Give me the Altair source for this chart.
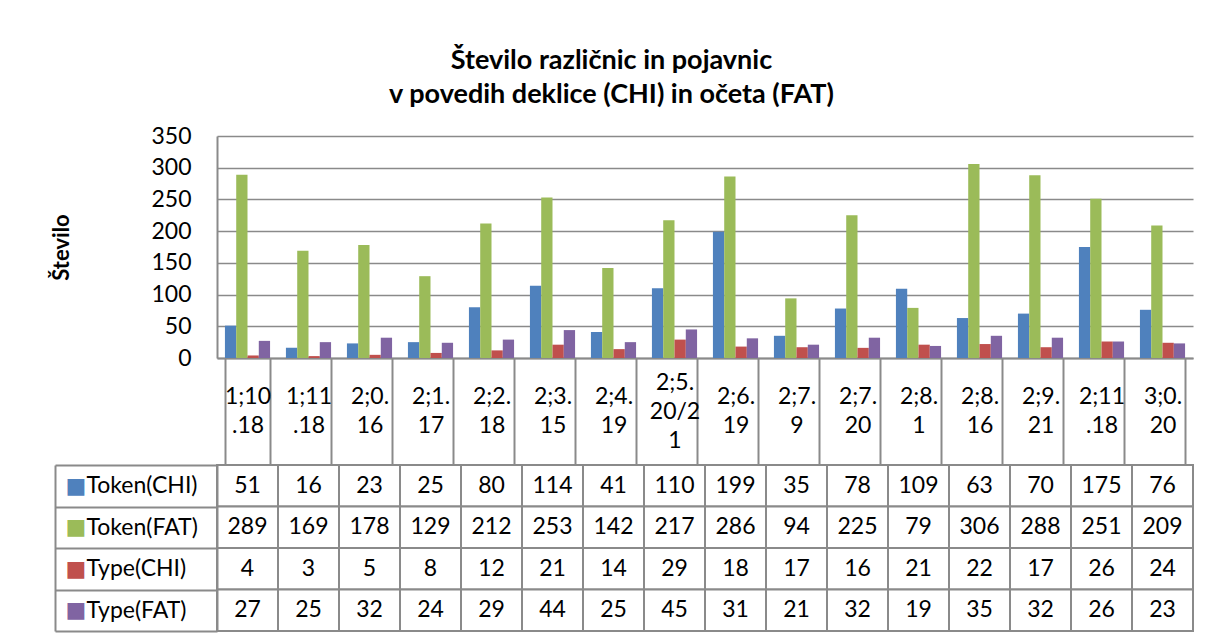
import altair as alt
import pandas as pd

categories = ["1;10.18", "1;11.18", "2;0.16", "2;1.17", "2;2.18", "2;3.15", "2;4.19",
              "2;5.20/21", "2;6.19", "2;7.9", "2;7.20", "2;8.1", "2;8.16", "2;9.21",
              "2;11.18", "3;0.20"]
series_names = ["Token(CHI)", "Token(FAT)", "Type(CHI)", "Type(FAT)"]
token_chi = [51, 16, 23, 25, 80, 114, 41, 110, 199, 35, 78, 109, 63, 70, 175, 76]
token_fat = [289, 169, 178, 129, 212, 253, 142, 217, 286, 94, 225, 79, 306, 288, 251, 209]
type_chi = [4, 3, 5, 8, 12, 21, 14, 29, 18, 17, 16, 21, 22, 17, 26, 24]
type_fat = [27, 25, 32, 24, 29, 44, 25, 45, 31, 21, 32, 19, 35, 32, 26, 23]
colors = ["#4F81BD", "#9BBB59", "#C0504D", "#8064A2"]
y_ticks = [0, 50, 100, 150, 200, 250, 300, 350]
title_lines = ["Število različnic in pojavnic", "v povedih deklice (CHI) in očeta (FAT)"]
y_title = "Število"

rows = []
for s, vals in zip(series_names, [token_chi, token_fat, type_chi, type_fat]):
    for c, v in zip(categories, vals):
        rows.append({"cat": c, "series": s, "value": v})
df = pd.DataFrame(rows)

FONT = "Lato"
FS = 23
GRID = "#8a8a8a"
W = 976
CAT_ROW = 107

label_expr = ("length(datum.label) > 8 ? [substring(datum.label,0,4), substring(datum.label,4,8), "
              "substring(datum.label,8)] : [substring(datum.label,0,4), substring(datum.label,4)]")
three_line = "isString(datum.value) && length(datum.value) > 8"

bars = alt.Chart(df).mark_bar().encode(
    x=alt.X("cat:N", sort=categories,
            scale=alt.Scale(domain=categories, paddingInner=0.26, paddingOuter=0.13),
            axis=alt.Axis(title=None, labelAngle=0, tickBand="extent", tickSize=CAT_ROW,
                          tickColor=GRID, tickWidth=2, domainColor=GRID, domainWidth=2,
                          labelPadding=-82.5,
                          labelBaseline={"condition": {"test": three_line, "value": "middle"},
                                         "value": "line-top"},
                          labelLineHeight=29,
                          labelExpr=label_expr, labelFont=FONT, labelFontSize=FS,
                          labelColor="black", labelOverlap=False)),
    xOffset=alt.XOffset("series:N", sort=series_names,
                        scale=alt.Scale(domain=series_names, paddingInner=0, paddingOuter=0)),
    y=alt.Y("value:Q", scale=alt.Scale(domain=[0, 350]),
            axis=alt.Axis(values=y_ticks, title=y_title, ticks=False, labelPadding=26,
                          labelFont=FONT, labelFontSize=FS, labelColor="black",
                          gridColor=GRID, gridWidth=1.5, domainColor=GRID, domainWidth=2,
                          titleFont=FONT, titleFontSize=22, titleFontWeight="bold",
                          titleColor="black", titlePadding=77)),
    color=alt.Color("series:N", scale=alt.Scale(domain=series_names, range=colors), legend=None),
).properties(width=W, height=222)

color_conds = [{"test": f"datum.value === '{s}'", "value": c} for s, c in zip(series_names, colors)]

x_tab = alt.X("cat:N", sort=categories,
              scale=alt.Scale(domain=categories, paddingInner=0, paddingOuter=0), axis=None)

cells = alt.Chart(df).mark_rect(fill="white", stroke=GRID, strokeWidth=2).encode(
    x=x_tab,
    y=alt.Y("series:N", sort=series_names,
            scale=alt.Scale(domain=series_names, paddingInner=0, paddingOuter=0),
            axis=alt.Axis(orient="left", title=None, domainColor=GRID, domainWidth=2,
                          tickBand="extent", tickSize=162, tickColor=GRID, tickWidth=2,
                          labelAlign="left", labelBaseline="middle", labelPadding=-31,
                          labelFont=FONT, labelFontSize=FS, labelColor="black")),
)

texts = alt.Chart(df).mark_text(font=FONT, fontSize=FS, color="black").encode(
    x=x_tab,
    y=alt.Y("series:N", sort=series_names,
            scale=alt.Scale(domain=series_names, paddingInner=0, paddingOuter=0),
            axis=alt.Axis(orient="left", title=None, offset=162, domainColor=GRID,
                          domainWidth=2, ticks=False, labelExpr="'\u25A0'",
                          labelAlign="left", labelBaseline="middle", labelPadding=-10,
                          labelFont="DejaVu Sans", labelFontSize=22,
                          labelColor={"condition": color_conds, "value": "black"})),
    text="value:Q",
)

table = alt.layer(cells, texts).resolve_axis(y="independent").properties(width=W, height=166)

chart = alt.vconcat(bars, table, spacing=CAT_ROW, bounds="flush").properties(
    title=alt.Title(text=title_lines, font=FONT, fontSize=27, fontWeight="bold",
                    color="black", lineHeight=34, anchor="middle", offset=16, dx=-11),
    padding={"left": 42, "top": 38, "right": 5, "bottom": 0},
    background="white",
).configure_view(stroke="transparent")

chart.save("out.html", embed_options={"renderer": "svg", "actions": False})
